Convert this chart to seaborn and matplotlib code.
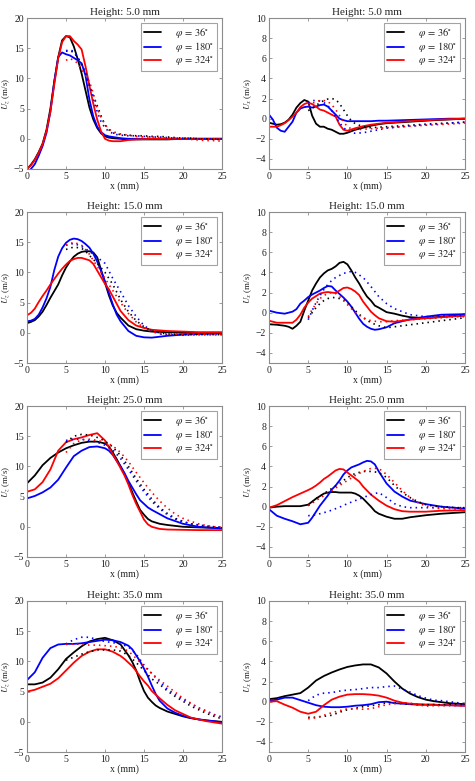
import matplotlib
matplotlib.use("Agg")
import matplotlib.pyplot as plt
import seaborn as sns
import pandas as pd

# ---------------- data ----------------
HEIGHTS = ["5.0", "15.0", "25.0", "35.0"]
PHI_LABELS = [r"$\varphi\,=\,36^{\circ}$", r"$\varphi\,=\,180^{\circ}$", r"$\varphi\,=\,324^{\circ}$"]
COLORS = ["#000000", "#0000ff", "#ff0000"]
X_TICKS = [0, 5, 10, 15, 20, 25]
UZ_TICKS = [-5, 0, 5, 10, 15, 20]
UX_TICKS = [-4, -2, 0, 2, 4, 6, 8, 10]

# Height 5 mm, U_z
XS_UZ5 = [0, 0.5, 1, 1.5, 2, 2.5, 3, 3.5, 4, 4.5, 5, 5.5, 6, 6.5, 7, 7.5, 8, 8.5, 9, 9.5, 10, 10.5, 11, 12, 13, 14, 16, 18, 20, 22, 25]
UZ5_K = [-5, -4.3, -3.4, -2.2, -0.8, 1.5, 5, 9.5, 13.5, 16.3, 17, 16.8, 15.3, 13.2, 10.8, 8, 5.2, 3.2, 1.8, 0.9, 0.4, 0.2, 0.1, 0, -0.1, -0.1, -0.1, -0.1, 0, 0, 0]
UZ5_B = [-5.6, -5, -4.2, -2.8, -1.2, 1.0, 4.5, 9.5, 13.5, 14.3, 14, 13.8, 13.4, 13, 12.5, 10.5, 6.5, 3.7, 2, 1.1, 0.6, 0.4, 0.3, 0.1, 0, 0, 0, 0, 0, 0, 0]
UZ5_R = [-5, -4.4, -3.5, -2.3, -0.9, 1.3, 4.5, 9, 13.3, 16, 17, 17, 16.2, 15.6, 14.8, 12, 8.8, 5.8, 3.2, 1.2, 0, -0.3, -0.4, -0.4, -0.2, -0.1, 0, 0, 0, 0, 0]
XE_UZ5 = [5, 5.5, 6, 6.5, 7, 7.5, 8, 8.5, 9, 9.5, 10, 10.5, 11, 11.5, 12, 13, 14, 15, 16, 17, 18, 19, 20, 21, 22, 23, 24, 25]
UZ5_K_EXP = [14.5, 14.6, 14.3, 13.5, 12.3, 10.8, 8.8, 7.2, 5.5, 3.8, 2.3, 1.5, 1.0, 0.8, 0.7, 0.6, 0.5, 0.5, 0.4, 0.4, 0.3, 0.2, 0.1, 0.1, 0, 0, -0.1, -0.1]
UZ5_B_EXP = [14.6, 14.7, 14.5, 13.5, 12.3, 11, 9, 6.5, 4.5, 2.8, 1.8, 1.2, 0.9, 0.7, 0.6, 0.5, 0.5, 0.4, 0.3, 0.3, 0.2, 0.1, 0.1, 0.1, 0, 0, 0, 0]
UZ5_R_EXP = [13.0, 13.3, 13.0, 12.5, 11.5, 10.5, 9.5, 7.5, 5.0, 3.5, 2.4, 1.6, 1.2, 1.0, 0.8, 0.6, 0.4, 0.3, 0.3, 0.2, 0.1, 0.1, 0, -0.1, -0.2, -0.3, -0.3, -0.4]

# Height 5 mm, U_x
XS_UX5 = [0, 0.5, 1, 1.5, 2, 2.5, 3, 3.5, 4, 4.5, 5, 5.5, 6, 6.5, 7, 7.5, 8, 8.5, 9, 9.5, 10, 11, 12, 13, 14, 15, 17, 19, 21, 23, 25]
UX5_K = [-0.4, -0.5, -0.6, -0.55, -0.4, -0.1, 0.4, 1.1, 1.55, 1.85, 1.7, 0.3, -0.5, -0.8, -0.8, -1.0, -1.1, -1.3, -1.5, -1.5, -1.4, -1.1, -0.9, -0.7, -0.55, -0.45, -0.35, -0.25, -0.15, -0.08, 0]
UX5_B = [0.4, -0.1, -0.9, -1.2, -1.3, -0.8, -0.3, 0.6, 1.0, 1.15, 1.2, 1.1, 1.2, 1.35, 1.4, 1.2, 0.8, 0.4, 0, -0.15, -0.25, -0.25, -0.25, -0.25, -0.2, -0.2, -0.15, -0.1, -0.05, 0, 0]
UX5_R = [-0.8, -0.8, -0.8, -0.65, -0.45, -0.15, 0.2, 0.6, 1.15, 1.45, 1.6, 1.45, 1.2, 0.9, 0.8, 0.6, 0.4, 0.2, -0.6, -1.1, -1.2, -0.95, -0.75, -0.6, -0.5, -0.4, -0.3, -0.2, -0.12, -0.05, 0]
XE_UX5 = [5, 5.5, 6, 6.5, 7, 7.5, 8, 8.5, 9, 9.5, 10, 10.5, 11, 12, 13, 15, 17, 20, 25]
UX5_K_EXP = [0.8, 1.0, 1.3, 1.6, 1.8, 1.95, 2.0, 1.9, 1.5, 0.9, 0.3, -0.2, -0.5, -0.8, -0.9, -0.8, -0.7, -0.55, -0.35]
UX5_B_EXP = [1.6, 1.8, 1.8, 1.75, 1.6, 1.3, 0.8, 0.2, -0.4, -0.9, -1.2, -1.4, -1.45, -1.4, -1.25, -0.95, -0.8, -0.6, -0.35]
UX5_R_EXP = [1.3, 1.5, 1.7, 1.8, 1.8, 1.7, 1.4, 0.9, 0.3, -0.3, -0.8, -1.0, -1.1, -1.05, -1.0, -0.9, -0.8, -0.65, -0.45]

# Height 15 mm, U_z
XS_UZ15 = [0, 0.5, 1, 1.5, 2, 2.5, 3, 3.5, 4, 4.5, 5, 5.5, 6, 6.5, 7, 7.5, 8, 8.5, 9, 9.5, 10, 10.5, 11, 11.5, 12, 13, 14, 15, 16, 18, 20, 22, 25]
UZ15_K = [1.6, 1.8, 2.1, 2.7, 3.5, 4.6, 5.8, 6.9, 8.0, 9.5, 10.8, 11.8, 12.6, 13.1, 13.4, 13.5, 13.5, 13.3, 12.5, 10.4, 8.3, 6.2, 4.5, 3.3, 2.5, 1.2, 0.6, 0.35, 0.2, 0.1, 0, 0, 0]
UZ15_B = [1.9, 2.0, 2.3, 3.0, 4.2, 5.7, 7.6, 10.4, 12.6, 14.0, 14.9, 15.4, 15.6, 15.5, 15.2, 14.7, 14.1, 13.1, 11.8, 10.2, 8.5, 6.6, 4.7, 3.0, 1.9, 0.3, -0.5, -0.75, -0.8, -0.5, -0.3, -0.2, -0.1]
UZ15_R = [2.9, 3.3, 4.0, 5.1, 6.1, 7.0, 8.0, 8.9, 9.8, 10.6, 11.3, 11.9, 12.2, 12.4, 12.4, 12.2, 12.0, 11.4, 10.3, 9.2, 8.1, 7.2, 6.0, 4.8, 3.6, 2.1, 1.2, 0.8, 0.5, 0.3, 0.2, 0.1, 0.1]
XE_UZ15 = [5, 6, 7, 7.5, 8, 9, 10, 11, 12, 13, 14, 15, 16, 17, 18, 20, 22, 25]
UZ15_K_EXP = [13.8, 14.2, 14.0, 13.5, 12.8, 11.5, 10.0, 8.0, 5.5, 3.5, 2.0, 1.0, 0.3, 0, -0.2, -0.3, -0.3, -0.3]
UZ15_B_EXP = [14.5, 14.8, 14.3, 13.9, 13.5, 12.5, 11.5, 9.0, 6.8, 4.5, 2.7, 1.2, 0.3, -0.2, -0.3, -0.4, -0.3, -0.3]
UZ15_R_EXP = [14.5, 15.0, 14.5, 13.8, 13.0, 11.0, 9.0, 7.0, 5.0, 3.2, 1.8, 0.8, 0.2, -0.1, -0.2, -0.2, -0.3, -0.3]

# Height 15 mm, U_x
XS_UX15 = [0, 1, 2, 2.5, 3, 3.5, 4, 4.5, 5, 5.5, 6, 6.5, 7, 7.5, 8, 8.5, 9, 9.5, 10, 10.5, 11, 11.5, 12, 12.5, 13, 13.5, 14, 15, 16, 17, 18, 20, 22, 25]
UX15_K = [-1.15, -1.2, -1.3, -1.4, -1.6, -1.3, -0.9, 0.2, 1.2, 2.2, 2.9, 3.5, 3.9, 4.2, 4.35, 4.6, 4.95, 5.05, 4.8, 4.2, 3.5, 2.9, 2.2, 1.6, 1.2, 0.7, 0.5, 0.05, -0.1, -0.3, -0.45, -0.55, -0.4, -0.25]
UX15_B = [0.2, 0.0, -0.1, 0, 0.1, 0.35, 0.9, 1.2, 1.55, 1.8, 2.0, 2.2, 2.45, 2.65, 2.6, 2.2, 1.85, 1.5, 1.1, 0.6, 0, -0.6, -1.1, -1.4, -1.6, -1.7, -1.65, -1.45, -1.05, -0.85, -0.65, -0.4, -0.2, -0.15]
UX15_R = [-0.8, -1.0, -1.0, -1.0, -1.0, -0.7, -0.2, 0.5, 1.0, 1.4, 1.65, 1.9, 2.0, 2.05, 2.0, 1.95, 2.2, 2.45, 2.5, 2.35, 2.1, 1.75, 1.1, 0.6, 0.1, -0.25, -0.55, -0.85, -0.9, -0.8, -0.7, -0.55, -0.45, -0.3]
XE_UX15 = [5, 5.5, 6, 6.5, 7, 7.5, 8, 8.5, 9, 9.5, 10, 10.5, 11, 12, 13, 14, 15, 16, 18, 20, 22, 24, 25]
UX15_K_EXP = [-0.5, 0, 0.5, 0.9, 1.2, 1.4, 1.5, 1.5, 1.4, 1.3, 1.0, 0.6, 0.2, -0.5, -1.0, -1.3, -1.5, -1.4, -1.2, -1.0, -0.8, -0.6, -0.5]
UX15_B_EXP = [-0.7, 0.2, 1.0, 1.7, 2.3, 2.8, 3.2, 3.5, 3.7, 3.9, 4.0, 4.1, 4.0, 3.5, 2.6, 1.6, 0.9, 0.4, -0.2, -0.4, -0.3, -0.3, -0.3]
UX15_R_EXP = [-0.4, 0.3, 0.9, 1.4, 1.7, 1.9, 2.0, 1.9, 1.6, 1.2, 0.8, 0.4, 0.0, -0.5, -0.8, -0.9, -0.9, -0.8, -0.7, -0.6, -0.5, -0.4, -0.4]

# Height 25 mm, U_z
XS_UZ25 = [0, 1, 2, 3, 4, 5, 6, 7, 8, 9, 10, 10.5, 11, 11.5, 12, 12.5, 13, 13.5, 14, 14.5, 15, 15.5, 16, 17, 18, 20, 22, 25]
UZ25_K = [7.2, 8.5, 10.2, 11.4, 12.3, 13.0, 13.5, 13.9, 14.1, 14.1, 13.8, 13.3, 12.3, 11.2, 10.0, 8.7, 7.3, 5.7, 4.2, 2.8, 2.0, 1.3, 0.9, 0.5, 0.3, 0, -0.1, -0.2]
UZ25_B = [4.7, 5.1, 5.7, 6.5, 7.8, 9.8, 11.7, 12.6, 13.2, 13.3, 13.0, 12.6, 11.9, 10.9, 10.0, 8.9, 7.6, 6.5, 5.4, 4.4, 3.8, 3.2, 2.8, 2.1, 1.4, 0.5, 0, -0.3]
UZ25_R = [5.8, 6.2, 7.4, 9.5, 12.6, 14.0, 14.5, 14.8, 15.2, 15.5, 14.3, 13.2, 12.0, 10.9, 9.7, 8.5, 7.0, 5.3, 3.8, 2.5, 1.2, 0.4, 0, -0.35, -0.45, -0.5, -0.55, -0.55]
XE_UZ25 = [5, 6, 7, 8, 9, 10, 11, 12, 13, 14, 15, 16, 17, 18, 19, 20, 21, 22, 23, 24, 25]
UZ25_K_EXP = [14, 15, 15.3, 15.2, 14.8, 14.2, 13.2, 11.8, 10, 8, 6.2, 4.6, 3.2, 2.2, 1.4, 0.9, 0.5, 0.3, 0.1, 0, -0.1]
UZ25_B_EXP = [14.3, 14.5, 14.5, 14.3, 14, 13.5, 12.7, 11.3, 9.5, 7.6, 5.8, 4.2, 3, 2, 1.3, 0.8, 0.5, 0.3, 0.1, 0, -0.1]
UZ25_R_EXP = [12.3, 13.8, 14.4, 14.5, 14.3, 14, 13.4, 12.3, 10.8, 9, 7.3, 5.7, 4.3, 3.1, 2.1, 1.4, 0.9, 0.5, 0.2, 0, -0.1]

# Height 25 mm, U_x
XS_UX25 = [0, 1, 2, 3, 4, 5, 5.5, 6, 6.5, 7, 7.5, 8, 8.5, 9, 9.5, 10, 10.5, 11, 11.5, 12, 12.5, 13, 13.5, 14, 14.5, 15, 16, 17, 18, 20, 22, 25]
UX25_K = [-0.1, 0, 0.05, 0.05, 0.05, 0.2, 0.5, 0.8, 1.05, 1.3, 1.4, 1.45, 1.45, 1.4, 1.4, 1.4, 1.4, 1.3, 1.1, 0.8, 0.4, 0, -0.45, -0.7, -0.85, -1.0, -1.2, -1.2, -1.05, -0.85, -0.7, -0.55]
UX25_B = [-0.25, -0.9, -1.2, -1.45, -1.75, -1.6, -1.1, -0.5, 0.1, 0.6, 1.1, 1.7, 2.1, 2.6, 3.2, 3.6, 3.9, 4.05, 4.2, 4.4, 4.55, 4.5, 4.2, 3.5, 2.9, 2.3, 1.5, 1.0, 0.6, 0.25, 0, -0.2]
UX25_R = [-0.1, 0.15, 0.55, 0.95, 1.3, 1.65, 1.85, 2.1, 2.4, 2.75, 3.0, 3.3, 3.6, 3.75, 3.7, 3.4, 3.1, 2.8, 2.5, 2.0, 1.6, 1.2, 0.9, 0.6, 0.35, 0.1, -0.25, -0.45, -0.5, -0.5, -0.4, -0.35]
XE_UX25 = [5, 6, 7, 8, 9, 10, 11, 12, 13, 14, 15, 16, 17, 18, 19, 20, 21, 22, 23, 24, 25]
UX25_K_EXP = [0.1, 0.8, 1.3, 1.8, 2.3, 2.9, 3.3, 3.5, 3.5, 3.4, 2.9, 2.1, 1.4, 0.9, 0.5, 0.2, 0.05, 0, -0.05, -0.1, -0.1]
UX25_B_EXP = [-0.9, -0.8, -0.6, -0.35, -0.05, 0.3, 0.6, 0.9, 1.2, 1.4, 0.9, 0.3, 0, -0.1, -0.1, -0.1, -0.1, -0.1, -0.1, -0.1, -0.1]
UX25_R_EXP = [0.1, 0.6, 1.1, 1.6, 2.1, 2.6, 3.1, 3.5, 3.8, 3.8, 3.2, 2.4, 1.6, 0.9, 0.4, 0.05, -0.1, -0.2, -0.2, -0.25, -0.25]

# Height 35 mm, U_z
XS_UZ35 = [0, 1, 2, 3, 4, 5, 6, 7, 8, 9, 10, 11, 12, 12.5, 13, 13.5, 14, 14.5, 15, 15.5, 16, 16.5, 17, 18, 19, 20, 21, 22, 23, 24, 25]
UZ35_K = [6.2, 6.2, 6.5, 7.3, 8.7, 10.4, 11.5, 12.5, 13.3, 13.7, 13.9, 13.5, 12.8, 11.9, 11, 9.9, 8.5, 6.7, 5.1, 4.0, 3.3, 2.7, 2.3, 1.7, 1.3, 0.9, 0.6, 0.4, 0.2, 0.1, 0]
UZ35_B = [6.9, 8.2, 10.6, 12.2, 12.8, 12.9, 12.9, 13.0, 13.2, 13.4, 13.6, 13.5, 13.2, 12.9, 12.6, 12, 11, 10, 8.8, 7.5, 6, 4.6, 3.5, 2.2, 1.5, 1.0, 0.65, 0.4, 0.25, 0.1, -0.1]
UZ35_R = [5.0, 5.3, 5.8, 6.3, 7.2, 8.5, 9.8, 10.9, 11.6, 12.0, 12.0, 11.6, 10.9, 10.4, 9.8, 9.2, 8.4, 7.5, 6.7, 6.0, 5.1, 4.5, 3.9, 2.8, 1.9, 1.3, 0.7, 0.4, 0.1, -0.1, -0.3]
XE_UZ35 = [5, 6, 7, 8, 9, 10, 11, 12, 13, 14, 15, 16, 17, 18, 19, 20, 21, 22, 23, 24, 25]
UZ35_K_EXP = [10.2, 10.7, 11.2, 11.6, 11.9, 11.9, 11.9, 11.7, 11.0, 9.8, 8.5, 7.1, 6.2, 5.1, 4.2, 3.4, 2.6, 2.0, 1.4, 0.9, 0.5]
UZ35_B_EXP = [12.9, 13.6, 14, 14, 13.6, 13.3, 13.1, 12.9, 12.4, 11.2, 9.4, 8, 6.6, 5.4, 4.5, 3.7, 3, 2.3, 1.8, 1.2, 0.8]
UZ35_R_EXP = [12.8, 12.9, 12.8, 12.7, 12.7, 12.6, 12.5, 12.3, 11.7, 10.5, 9.2, 8, 6.9, 5.9, 4.9, 3.9, 3.1, 2.3, 1.7, 1.1, 0.6]

# Height 35 mm, U_x
XS_UX35 = [0, 1, 2, 3, 4, 5, 6, 7, 8, 9, 10, 11, 12, 13, 14, 15, 16, 17, 18, 19, 20, 21, 22, 23, 25]
UX35_K = [0.25, 0.35, 0.55, 0.7, 0.85, 1.4, 2.1, 2.55, 2.9, 3.2, 3.45, 3.6, 3.7, 3.7, 3.4, 2.8, 2.0, 1.3, 0.8, 0.45, 0.2, 0.05, -0.05, -0.15, -0.25]
UX35_B = [0.1, 0.2, 0.4, 0.4, 0.15, -0.1, -0.35, -0.5, -0.55, -0.55, -0.5, -0.4, -0.35, -0.25, -0.05, 0, -0.15, -0.2, -0.25, -0.3, -0.3, -0.3, -0.35, -0.35, -0.4]
UX35_R = [0, 0.05, -0.3, -0.6, -1.0, -1.2, -1.0, -0.35, 0.2, 0.5, 0.7, 0.75, 0.75, 0.7, 0.6, 0.4, 0.1, -0.1, -0.2, -0.25, -0.3, -0.3, -0.35, -0.35, -0.4]
XE_UX35 = [5, 6, 7, 8, 9, 10, 11, 12, 13, 14, 15, 16, 17, 18, 19, 20, 21, 22, 23, 24, 25]
UX35_K_EXP = [-1.55, -1.55, -1.45, -1.35, -1.05, -0.8, -0.65, -0.5, -0.4, -0.3, -0.1, -0.1, -0.2, -0.25, -0.3, -0.3, -0.3, -0.3, -0.3, -0.3, -0.3]
UX35_B_EXP = [0.1, 0.65, 0.85, 0.9, 1.05, 1.15, 1.2, 1.3, 1.4, 1.4, 1.5, 1.55, 1.25, 0.95, 0.6, 0.35, 0.15, 0.1, 0, -0.1, -0.25]
UX35_R_EXP = [-1.7, -1.6, -1.35, -1.1, -0.9, -0.7, -0.7, -0.75, -0.7, -0.5, -0.3, -0.2, -0.1, -0.15, -0.3, -0.45, -0.4, -0.4, -0.4, -0.4, -0.4]

# panel table: (row, col, x_sim, sims, x_exp, exps)
PANELS = [
    (0, 0, XS_UZ5, [UZ5_K, UZ5_B, UZ5_R], XE_UZ5, [UZ5_K_EXP, UZ5_B_EXP, UZ5_R_EXP]),
    (0, 1, XS_UX5, [UX5_K, UX5_B, UX5_R], XE_UX5, [UX5_K_EXP, UX5_B_EXP, UX5_R_EXP]),
    (1, 0, XS_UZ15, [UZ15_K, UZ15_B, UZ15_R], XE_UZ15, [UZ15_K_EXP, UZ15_B_EXP, UZ15_R_EXP]),
    (1, 1, XS_UX15, [UX15_K, UX15_B, UX15_R], XE_UX15, [UX15_K_EXP, UX15_B_EXP, UX15_R_EXP]),
    (2, 0, XS_UZ25, [UZ25_K, UZ25_B, UZ25_R], XE_UZ25, [UZ25_K_EXP, UZ25_B_EXP, UZ25_R_EXP]),
    (2, 1, XS_UX25, [UX25_K, UX25_B, UX25_R], XE_UX25, [UX25_K_EXP, UX25_B_EXP, UX25_R_EXP]),
    (3, 0, XS_UZ35, [UZ35_K, UZ35_B, UZ35_R], XE_UZ35, [UZ35_K_EXP, UZ35_B_EXP, UZ35_R_EXP]),
    (3, 1, XS_UX35, [UX35_K, UX35_B, UX35_R], XE_UX35, [UX35_K_EXP, UX35_B_EXP, UX35_R_EXP]),
]

# ---------------- style ----------------
sns.set_theme(style="white")
plt.rcParams["font.family"] = ["Liberation Serif", "DejaVu Serif"]
plt.rcParams["mathtext.fontset"] = "stix"
plt.rcParams["axes.unicode_minus"] = True

SPINE = "#8c8c8c"
TXT = "#222222"

fig = plt.figure(figsize=(4.75, 7.81), dpi=100)
LEFTS = [27 / 475, 269 / 475]
WIDTHS = [195 / 475, 196 / 475]
BOTTOMS_PX = [169, 363, 557, 752]
H = 151 / 781

for row, col, xs, sims, xe, exps in PANELS:
    ax = fig.add_axes([LEFTS[col], 1 - BOTTOMS_PX[row] / 781, WIDTHS[col], H])
    handles = []
    for ys, c in zip(sims, COLORS):
        sns.lineplot(x=xs, y=ys, ax=ax, color=c, lw=1.3, sort=False,
                     estimator=None, legend=False)
        handles.append(ax.lines[-1])
    for ys, c in zip(exps, COLORS):
        sns.lineplot(x=xe, y=ys, ax=ax, color=c, lw=1.2, sort=False,
                     estimator=None, legend=False, linestyle=(0, (0.9, 2.4)))
    ax.set_xlim(0, 25)
    ax.set_xticks(X_TICKS)
    if col == 0:
        ax.set_ylim(-5, 20)
        ax.set_yticks(UZ_TICKS)
        ax.set_ylabel("$U_z$ (m/s)", fontsize=6.5, color=TXT, labelpad=1)
    else:
        ax.set_ylim(-5, 10)
        ax.set_yticks(UX_TICKS)
        ax.set_ylabel("$U_x$ (m/s)", fontsize=6.5, color=TXT, labelpad=1)
    ax.set_xlabel("x (mm)", fontsize=7, color=TXT, labelpad=0.5)
    ax.set_title(f"Height: {HEIGHTS[row]} mm", fontsize=8, color=TXT, pad=2)
    ax.tick_params(direction="in", length=2.5, width=0.6, color=SPINE,
                   labelsize=7, labelcolor=TXT, pad=2,
                   top=True, right=True, bottom=True, left=True)
    for s in ax.spines.values():
        s.set_color(SPINE)
        s.set_linewidth(0.8)
    leg = ax.legend(handles, PHI_LABELS, loc="upper right", fontsize=7.5,
                    frameon=True, fancybox=False, handlelength=1.6,
                    handletextpad=1.4, borderpad=0.3, labelspacing=0.05,
                    borderaxespad=0.45)
    leg.get_frame().set_edgecolor(SPINE)
    leg.get_frame().set_linewidth(0.8)
    for t in leg.get_texts():
        t.set_color(TXT)

fig.savefig("out.png", dpi=100)
